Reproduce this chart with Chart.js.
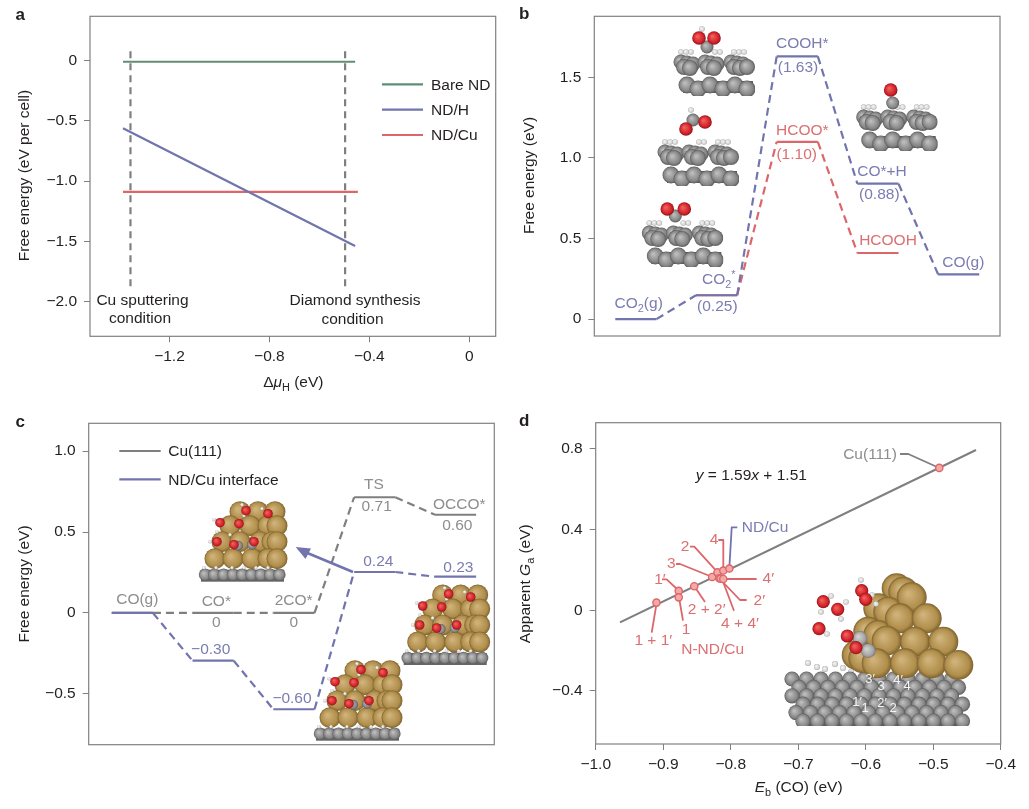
<!DOCTYPE html>
<html>
<head>
<meta charset="utf-8">
<title>Free energy panels</title>
<script src="https://cdn.jsdelivr.net/npm/chart.js@4/dist/chart.umd.min.js"></script>
<style>
  html, body { margin: 0; background: #fff; }
  #page { position: relative; width: 1029px; height: 809px; overflow: hidden; }
  canvas { position: absolute; }
</style>
</head>
<body>
<div id="page">
  <canvas id="panelA" width="510" height="400" style="left:0;top:0"></canvas>
  <canvas id="panelB" width="519" height="400" style="left:510px;top:0"></canvas>
  <canvas id="panelC" width="510" height="409" style="left:0;top:400px"></canvas>
  <canvas id="panelD" width="519" height="409" style="left:510px;top:400px"></canvas>
</div>
<script>
// ---- panel a: phase lines
const aEndsX = [-1.386, -0.457];
const aBareND = [-0.008, -0.008];
const aNDH = [-0.56, -1.54];
const aNDCuX = [-1.386, -0.446];
const aNDCu = [-1.09, -1.09];
const aGuideX = [-1.356, -0.497];
const aGuideY = [0.08, -1.896];
const aTicksX = [-1.2, -0.8, -0.4, 0];
const aTicksY = [0, -0.5, -1, -1.5, -2];

// ---- panel b: CO2 reduction levels (step index = position in the array)
const bBlueLevels = [0, 0.148, 1.63, 0.84, 0.278];
const bRedLevels = [0.148, 1.10, 0.41];
const bRedFirstStep = 1;
const bTicksY = [0, 0.5, 1, 1.5];

// ---- panel c: CO coupling levels
const cCuLevels = [0, 0, 0, 0.715, 0.607];
const cInterfaceLevels = [0, -0.295, -0.595, 0.253, 0.224];
const cTicksY = [-0.5, 0, 0.5, 1];

// ---- panel d: scaling relation
const dFitX = [-0.964, -0.4366];
const dFitY = [-0.06, 0.795];
const dSiteNames = ['1 + 1′', '1′', '1', '2 + 2′', '3', '2', '4', 'ND/Cu', '2′', '4 + 4′', '4′', 'Cu(111)'];
const dSiteX = [-0.910, -0.877, -0.877, -0.854, -0.8275, -0.8196, -0.811, -0.802, -0.817, -0.815, -0.811, -0.491];
const dSiteY = [0.038, 0.096, 0.064, 0.119, 0.165, 0.188, 0.197, 0.207, 0.159, 0.157, 0.155, 0.706];
const dTicksX = [-1, -0.9, -0.8, -0.7, -0.6, -0.5, -0.4];
const dTicksY = [-0.4, 0, 0.4, 0.8];

const BLUE = '#7174ad', RED = '#dc6669', GREEN = '#5f8e75', GREY = '#7f7f81';
const BLUE_TEXT = '#7a7cb2', RED_TEXT = '#dc6f70', GREY_TEXT = '#8d8d8f', INK = '#231f20';
const FONT = '"Liberation Sans", Arial, sans-serif';
const levelWidth = 0.51;

Chart.defaults.font.family = FONT;
Chart.defaults.font.size = 15.5;
Chart.defaults.color = INK;

const pairs = (xs, ys) => xs.map((x, i) => ({ x, y: ys[i] }));
const levelPoints = (levels, first = 0) =>
  levels.flatMap((v, i) => [{ x: first + i, y: v }, { x: first + i + levelWidth, y: v }]);
const tickText = v => (v === 0 ? '0' : v.toFixed(1).replace('-', '\u2212'));

function solidLine(label, data, color) {
  return { label, data, showLine: true, borderColor: color, borderWidth: 2.2, pointRadius: 0 };
}
function dashedLine(label, data, color) {
  return { ...solidLine(label, data, color), borderDash: [7, 5] };
}
// solid on the levels, dashed on the links between them
function pathway(label, data, color) {
  return {
    ...solidLine(label, data, color),
    segment: { borderDash: ctx => (ctx.p0DataIndex % 2 ? [8, 5] : undefined) }
  };
}

// ---- text with <i>, <sub>, <sup>; x and y are page pixels
function drawRich(ctx, text, x, y, color, opts = {}) {
  const size = opts.size || 15.5;
  const runs = [];
  text.split(/(<(?:i|sub|sup)>.*?<\/(?:i|sub|sup)>)/).filter(Boolean).forEach(part => {
    const m = part.match(/^<(i|sub|sup)>(.*)<\/\1>$/);
    runs.push(m ? { kind: m[1], text: m[2] } : { kind: '', text: part });
  });
  const fontFor = r => {
    const s = r.kind === 'sub' || r.kind === 'sup' ? size * 0.7 : size;
    return (r.kind === 'i' ? 'italic ' : '') + (opts.bold ? 'bold ' : '') + s + 'px ' + FONT;
  };
  let total = 0;
  runs.forEach(r => { ctx.font = fontFor(r); r.w = ctx.measureText(r.text).width; total += r.w; });
  ctx.save();
  ctx.translate(x, y);
  if (opts.rotate) ctx.rotate(opts.rotate);
  ctx.fillStyle = color;
  ctx.textBaseline = 'middle';
  ctx.textAlign = 'left';
  let cx = opts.left ? 0 : -total / 2;
  runs.forEach(r => {
    ctx.font = fontFor(r);
    const dy = r.kind === 'sub' ? size * 0.3 : r.kind === 'sup' ? -size * 0.3 : 0;
    ctx.fillText(r.text, cx, dy);
    cx += r.w;
  });
  ctx.restore();
}

function polyline(ctx, points, color, width) {
  ctx.beginPath();
  points.forEach((p, i) => (i ? ctx.lineTo(p[0], p[1]) : ctx.moveTo(p[0], p[1])));
  ctx.strokeStyle = color;
  ctx.lineWidth = width;
  ctx.lineJoin = 'round';
  ctx.stroke();
}

// ---- atom illustrations
const ATOMS = {
  C: ['#bcbcbc', '#858585', '#5a5a5a'],
  G: ['#d0d0d0', '#a4a4a4', '#777777'],
  O: ['#f0605a', '#d01f28', '#8c1418'],
  H: ['#f4f4f4', '#d4d4d4', '#a0a0a0'],
  Cu: ['#cfb279', '#b08e4b', '#7d6230']
};
function sphere(ctx, x, y, r, kind) {
  const c = ATOMS[kind];
  const g = ctx.createRadialGradient(x - r * 0.25, y - r * 0.25, r * 0.1, x, y, r);
  g.addColorStop(0, c[0]);
  g.addColorStop(0.75, c[1]);
  g.addColorStop(1, c[2]);
  ctx.fillStyle = g;
  ctx.beginPath();
  ctx.arc(x, y, r, 0, Math.PI * 2);
  ctx.fill();
}
function atoms(ctx, list, kind, r, ox = 0, oy = 0) {
  list.forEach(p => sphere(ctx, ox + p[0], oy + p[1], r, kind));
}

const slabHydrogens = [[6, -1], [11, -1], [16, -1], [40, -1], [45, -1], [59, -1], [64, -1], [69, -1]];
const slabBack = [[6, 9], [12, 10], [18, 11], [30, 9], [36, 10], [42, 11], [56, 9], [62, 10], [68, 11]];
const slabFront = [[9, 14], [15, 15], [33, 14], [39, 15], [59, 14], [65, 15], [72, 14]];
const slabLower = [[12, 32], [23, 36], [35, 32], [48, 36], [60, 32], [72, 36]];
function diamondSlab(ctx, x, y, adsorbate) {
  ctx.save();
  ctx.beginPath();
  ctx.rect(x - 10, y - 40, 90, 83);
  ctx.clip();
  atoms(ctx, slabHydrogens, 'H', 2.8, x, y);
  ctx.fillStyle = '#5b5b5b';
  ctx.fillRect(x + 8, y + 28, 70, 12);
  atoms(ctx, slabLower, 'C', 8.5, x, y);
  atoms(ctx, slabBack, 'C', 7.5, x, y);
  atoms(ctx, slabFront, 'C', 8, x, y);
  adsorbate.forEach(a => sphere(ctx, x + a[1], y + a[2], a[3], a[0]));
  ctx.restore();
}

const cuRows = [
  [[40, 10], [58, 10], [75, 10]],
  [[30, 24], [50, 24], [68, 24], [77, 24]],
  [[22, 40], [40, 40], [60, 40], [72, 40], [77, 40]],
  [[15, 57], [33, 57], [52, 57], [68, 57], [77, 57]]
];
const cuOxygens = [[46, 9], [68, 12], [20, 21], [39, 22], [17, 40], [34, 43], [54, 40]];
const cuHydrogens = [[42, 3], [62, 7], [14, 18], [17, 30], [10, 40], [44, 14], [30, 33]];
function cuStack(ctx, x, y) {
  ctx.fillStyle = '#666666';
  ctx.fillRect(x + 1, y + 68, 83, 12);
  for (let i = 0; i < 9; i++) sphere(ctx, x + 5 + i * 9.3, y + 73, 6.2, 'C');
  cuRows.forEach(row => atoms(ctx, row, 'Cu', 10.5, x, y));
  [4, 16, 32, 44, 56, 68].forEach(dx => sphere(ctx, x + dx, y + 66, 1.8, 'H'));
  atoms(ctx, [[38, 44], [52, 43]], 'C', 5, x, y);
  atoms(ctx, cuHydrogens, 'H', 1.8, x, y);
  atoms(ctx, cuOxygens, 'O', 4.8, x, y);
}

function bigInterface(ctx) {
  // grey slab, cut flat at the bottom
  ctx.save();
  ctx.beginPath();
  ctx.rect(590, 600, 410, 126);
  ctx.clip();
  atoms(ctx, [[808, 663], [817, 667], [825, 669], [835, 664], [843, 668], [851, 672]], 'H', 3);
  ctx.fillStyle = '#5c5c5c';
  ctx.fillRect(798, 680, 160, 46);
  for (let row = 0; row < 6; row++) {
    for (let i = 0; i < 12; i++) {
      const x = 792 + i * 14.5 + (row % 2) * 7 + (row > 2 ? 4 : 0);
      sphere(ctx, x, 679 + row * 8.4, 7.6, 'C');
    }
  }
  ctx.restore();
  const goldBack = [
    [896.7, 588.3], [903.3, 591.7], [878.3, 608.3], [888.3, 611.7],
    [868.3, 631.7], [878.3, 635], [856.7, 655], [863.3, 658.3]
  ];
  const goldFront = [
    [911.7, 597.3], [900, 618.3], [926.7, 618.3],
    [886.7, 640.7], [915, 641.7], [943.3, 641.7],
    [876.7, 663.3], [905, 663.3], [931.7, 663.3], [958.3, 665]
  ];
  atoms(ctx, goldBack, 'Cu', 15);
  atoms(ctx, goldFront, 'Cu', 15);
  atoms(ctx, [[860, 638.3], [868.3, 650.7]], 'G', 7.3);
  atoms(ctx, [[831, 596], [861, 580], [846, 602], [821, 612], [841, 619], [827, 634], [872, 595], [876, 604]], 'H', 2.8);
  atoms(ctx, [[823.3, 601.7], [837.7, 609.3], [819, 628.7], [861.7, 590.7], [865.7, 599.3], [847.3, 636], [856, 647.7]], 'O', 6.6);
}

// ---- panel specific drawing, all coordinates in page pixels
const panelA = {
  box: [0, 0, 510, 400], frame: [90, 15, 495.7, 336.3],
  front(ctx) {
    [['Bare ND', 84.3, GREEN], ['ND/H', 109.7, BLUE], ['ND/Cu', 135, RED]].forEach(row => {
      polyline(ctx, [[382, row[1]], [423, row[1]]], row[2], 2.2);
      drawRich(ctx, row[0], 431, row[1] + 1, INK, { left: true });
    });
    drawRich(ctx, 'Cu sputtering', 142.5, 300.5, INK);
    drawRich(ctx, 'condition', 140, 319, INK);
    drawRich(ctx, 'Diamond synthesis', 355, 301, INK);
    drawRich(ctx, 'condition', 352.5, 320, INK);
    drawRich(ctx, 'Δ<i>μ</i><sub>H</sub> (eV)', 293.3, 383, INK);
    drawRich(ctx, 'Free energy (eV per cell)', 25, 175.5, INK, { rotate: -Math.PI / 2 });
    drawRich(ctx, 'a', 15.5, 15.5, INK, { left: true, bold: true, size: 17 });
  }
};

const panelB = {
  box: [510, 0, 519, 400], frame: [594.3, 15, 1000, 336],
  back(ctx) {
    const o = (x, y) => ['O', x, y, 6.8];
    const c = (x, y) => ['C', x, y, 6.5];
    const h = (x, y) => ['H', x, y, 2.8];
    diamondSlab(ctx, 675, 53, [h(27, -24), c(32, -6), o(24, -15), o(39, -15)]);
    diamondSlab(ctx, 659, 143, [h(32, -33), c(34, -23), o(27, -14), o(46, -21)]);
    diamondSlab(ctx, 643.3, 224, [c(32, -8), o(24, -15), o(41, -15)]);
    diamondSlab(ctx, 857.7, 108, [c(35, -5), o(33, -18)]);
  },
  front(ctx) {
    [['CO<sub>2</sub>(g)', 638.7, 304], ['CO<sub>2</sub><sup>*</sup>', 718.7, 280], ['(0.25)', 717.3, 307],
     ['COOH*', 802.3, 43.3], ['(1.63)', 798, 67.3], ['CO*+H', 882, 172], ['(0.88)', 879.3, 194.3],
     ['CO(g)', 963.3, 262.3]].forEach(l => drawRich(ctx, l[0], l[1], l[2], BLUE_TEXT));
    [['HCOO*', 802.3, 130.7], ['(1.10)', 796.7, 154.3], ['HCOOH', 888, 240.7]]
      .forEach(l => drawRich(ctx, l[0], l[1], l[2], RED_TEXT));
    drawRich(ctx, 'Free energy (eV)', 530, 175.5, INK, { rotate: -Math.PI / 2 });
    drawRich(ctx, 'b', 519, 14, INK, { left: true, bold: true, size: 17 });
  }
};

const panelC = {
  box: [0, 400, 510, 409], frame: [88.7, 423.3, 494.3, 744.7],
  back(ctx) {
    cuStack(ctx, 200, 501.7);
    cuStack(ctx, 402.7, 585);
    cuStack(ctx, 315, 660.7);
  },
  front(ctx) {
    [['Cu(111)', 451, GREY], ['ND/Cu interface', 479.3, BLUE]].forEach(row => {
      polyline(ctx, [[119.3, row[1]], [160.7, row[1]]], row[2], 2.2);
      drawRich(ctx, row[0], 168.3, row[1] + 1, INK, { left: true });
    });
    [['CO(g)', 137.3, 600], ['CO*', 216.3, 601.7], ['0', 216.3, 622.7], ['2CO*', 293.7, 601], ['0', 293.7, 623],
     ['TS', 374, 485], ['0.71', 376.7, 506.7], ['OCCO*', 459.3, 504.3], ['0.60', 457.3, 526]]
      .forEach(l => drawRich(ctx, l[0], l[1], l[2], GREY_TEXT));
    [['\u22120.30', 210.7, 650], ['\u22120.60', 292, 698.3], ['0.24', 378.3, 562], ['0.23', 458.3, 568]]
      .forEach(l => drawRich(ctx, l[0], l[1], l[2], BLUE_TEXT));
    // arrow from the 0.24 level to the inset
    polyline(ctx, [[353, 572], [305, 552]], BLUE, 2.6);
    ctx.fillStyle = BLUE;
    ctx.beginPath();
    ctx.moveTo(295.7, 547);
    ctx.lineTo(311, 548.5);
    ctx.lineTo(305.5, 559);
    ctx.closePath();
    ctx.fill();
    drawRich(ctx, 'Free energy (eV)', 24.7, 584, INK, { rotate: -Math.PI / 2 });
    drawRich(ctx, 'c', 15.5, 422, INK, { left: true, bold: true, size: 17 });
  }
};

const panelD = {
  box: [510, 400, 519, 409], frame: [595.7, 422.7, 1000.7, 744],
  back(ctx) {
    bigInterface(ctx);
    [[[656.7, 602.7], [651.7, 632.7]],
     [[679, 591], [666.7, 579.3], [662, 579.3]],
     [[679, 597.3], [683, 620.7]],
     [[694.3, 586.3], [705, 602]],
     [[712.3, 577], [680, 564], [676, 564]],
     [[717.7, 572.3], [694.3, 546.7], [690, 546.7]],
     [[723.3, 570.7], [723.3, 540], [718.3, 540]],
     [[719.3, 578.3], [740, 600], [746.7, 600]],
     [[722, 579], [734, 610.7]],
     [[723.3, 579], [756.7, 579]]]
      .forEach(pts => polyline(ctx, pts, RED, 1.8));
    polyline(ctx, [[729.3, 568.7], [731.7, 527.3], [737.3, 527.3]], BLUE, 1.8);
    polyline(ctx, [[939.3, 468], [908.3, 454], [900, 454]], GREY, 1.8);
  },
  front(ctx) {
    drawRich(ctx, '<i>y</i> = 1.59<i>x</i> + 1.51', 751.3, 475.3, INK);
    drawRich(ctx, 'Cu(111)', 870, 455, GREY_TEXT);
    drawRich(ctx, 'ND/Cu', 765, 527.7, BLUE_TEXT);
    [['4', 714, 540], ['2', 685, 546.7], ['3', 671.3, 564], ['1′', 660, 579.3], ['4′', 768.3, 578.3],
     ['2′', 759.3, 600.3], ['2 + 2′', 706.7, 610], ['4 + 4′', 740, 624], ['1', 686, 629.3],
     ['1 + 1′', 653.3, 640.7], ['N-ND/Cu', 712.7, 650]]
      .forEach(l => drawRich(ctx, l[0], l[1], l[2], RED_TEXT));
    [['3′', 870, 679], ['3', 881, 686], ['4′', 898, 680], ['4', 907, 686],
     ['1′', 857, 702], ['1', 865, 708], ['2′', 882, 703], ['2', 893, 708]]
      .forEach(l => drawRich(ctx, l[0], l[1], l[2], '#f4f4f4', { size: 13 }));
    drawRich(ctx, '<i>E</i><sub>b</sub> (CO) (eV)', 798.7, 788, INK);
    drawRich(ctx, 'Apparent <i>G</i><sub>a</sub> (eV)', 526, 583.7, INK, { rotate: -Math.PI / 2 });
    drawRich(ctx, 'd', 519, 421, INK, { left: true, bold: true, size: 17 });
  }
};

// frame plus the drawing hooks of each panel
const panelArt = {
  id: 'panelArt',
  beforeDatasetsDraw(chart, args, opts) {
    const ctx = chart.ctx, p = opts.panel;
    ctx.save();
    ctx.translate(-p.box[0], -p.box[1]);
    if (p.back) p.back(ctx);
    ctx.restore();
  },
  afterDatasetsDraw(chart, args, opts) {
    const ctx = chart.ctx, p = opts.panel, a = chart.chartArea;
    ctx.save();
    ctx.strokeStyle = '#808082';
    ctx.lineWidth = 1.2;
    ctx.strokeRect(a.left, a.top, a.right - a.left, a.bottom - a.top);
    ctx.translate(-p.box[0], -p.box[1]);
    p.front(ctx);
    ctx.restore();
  }
};

function axis(range, ticks, side, panel) {
  const [l, t, r, b] = panel.frame;
  const [bx, by, bw, bh] = panel.box;
  return {
    type: 'linear',
    min: range[0],
    max: range[1],
    border: { display: false },
    grid: { drawOnChartArea: false, drawTicks: !!ticks, tickLength: 6, color: '#808082' },
    ticks: {
      display: !!ticks,
      padding: side === 'y' ? 7 : 5,
      maxRotation: 0,
      autoSkip: false,
      includeBounds: false,
      callback: tickText
    },
    afterBuildTicks: s => { if (ticks) s.ticks = ticks.map(value => ({ value })); },
    afterFit: s => {
      if (side === 'y') s.width = l - bx;
      else s.height = by + bh - b;
    }
  };
}

function makeChart(id, panel, datasets, xRange, yRange, xTicks, yTicks) {
  const [l, t, r] = panel.frame;
  const [bx, by, bw] = panel.box;
  return new Chart(document.getElementById(id), {
    type: 'scatter',
    data: { datasets },
    options: {
      responsive: false,
      animation: false,
      layout: { padding: { top: t - by, right: bx + bw - r, left: 0, bottom: 0 } },
      plugins: { legend: { display: false }, tooltip: { enabled: false }, panelArt: { panel } },
      scales: { x: axis(xRange, xTicks, 'x', panel), y: axis(yRange, yTicks, 'y', panel) }
    },
    plugins: [panelArt]
  });
}

window.addEventListener('DOMContentLoaded', () => {
  makeChart('panelA', panelA, [
    solidLine('Bare ND', pairs(aEndsX, aBareND), GREEN),
    solidLine('ND/H', pairs(aEndsX, aNDH), BLUE),
    solidLine('ND/Cu', pairs(aNDCuX, aNDCu), RED),
    dashedLine('Cu sputtering condition', pairs([aGuideX[0], aGuideX[0]], aGuideY), GREY),
    dashedLine('Diamond synthesis condition', pairs([aGuideX[1], aGuideX[1]], aGuideY), GREY)
  ], [-1.518, 0.1056], [-2.29, 0.37], aTicksX, aTicksY);

  makeChart('panelB', panelB, [
    pathway('CO route', levelPoints(bBlueLevels), BLUE),
    pathway('HCOOH route', levelPoints(bRedLevels, bRedFirstStep), RED)
  ], [-0.26, 4.767], [-0.105, 1.879], null, bTicksY);

  makeChart('panelC', panelC, [
    pathway('ND/Cu interface', levelPoints(cInterfaceLevels), BLUE),
    pathway('Cu(111)', levelPoints(cCuLevels), GREY)
  ], [-0.285, 4.735], [-0.814, 1.172], null, cTicksY);

  makeChart('panelD', panelD, [
    {
      label: 'Sites',
      data: pairs(dSiteX, dSiteY),
      pointRadius: 3.6,
      pointBackgroundColor: '#f5a9a6',
      pointBorderColor: RED,
      pointBorderWidth: 1.4
    },
    solidLine('y = 1.59x + 1.51', pairs(dFitX, dFitY), GREY)
  ], [-1, -0.4], [-0.663, 0.93], dTicksX, dTicksY);
});
</script>
</body>
</html>
